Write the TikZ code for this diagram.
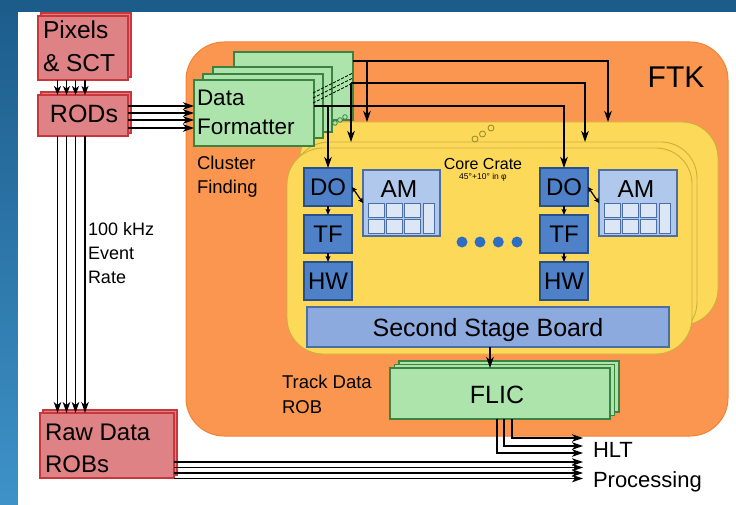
\documentclass[tikz,border=0pt]{standalone}
\usepackage{fontspec}
\setmainfont{Liberation Sans}
\usetikzlibrary{arrows.meta}
\definecolor{frameA}{RGB}{28,92,138}
\definecolor{frameB}{RGB}{62,146,200}
\definecolor{redF}{RGB}{222,130,133}
\definecolor{redD}{RGB}{200,55,60}
\definecolor{orgF}{RGB}{250,150,80}
\definecolor{orgD}{RGB}{242,132,52}
\definecolor{yelF}{RGB}{253,217,90}
\definecolor{yelD}{RGB}{205,175,60}
\definecolor{grnF}{RGB}{172,228,172}
\definecolor{grnD}{RGB}{60,130,65}
\definecolor{bluF}{RGB}{79,129,200}
\definecolor{bluD}{RGB}{40,80,140}
\definecolor{amF}{RGB}{176,200,235}
\definecolor{amD}{RGB}{75,110,165}
\definecolor{amC}{RGB}{220,230,245}
\definecolor{ssbF}{RGB}{140,170,222}
\definecolor{dotC}{RGB}{45,110,195}
\newcommand{\myfs}[1]{\fontsize{#1pt}{#1pt}\selectfont}
\begin{document}
\begin{tikzpicture}[x=1pt,y=-1pt,
  box/.style={draw, rectangle, inner sep=0pt, outer sep=0pt, anchor=north west, line width=1.1pt},
  redbox/.style={box, fill=redF, draw=redD},
  grnbox/.style={box, fill=grnF, draw=grnD},
  blubox/.style={box, fill=bluF, draw=bluD, font=\myfs{24}},
  ambox/.style={box, fill=amF, draw=amD},
  crate/.style={box, fill=yelF, draw=yelD, line width=0.9pt, rounded corners=36pt},
  lbl/.style={inner sep=0pt, outer sep=0pt, anchor=base west},
  clbl/.style={inner sep=0pt, outer sep=0pt, anchor=base},
  arr/.style={line width=1.6pt, -{Stealth[length=11pt,width=7.5pt,inset=3pt]}},
  barr/.style={line width=1.4pt, -{Stealth[length=11pt,width=7.5pt,inset=3pt]}},
  sarr/.style={line width=1.2pt, -{Stealth[length=6pt,width=5pt,inset=1.5pt]}},
  parr/.style={line width=1.3pt, -{Stealth[length=9pt,width=7pt,inset=2.5pt]}},
  darr/.style={line width=1.2pt, {Stealth[length=5pt,width=5pt,inset=1pt]}-{Stealth[length=5pt,width=5pt,inset=1pt]}},
]
\useasboundingbox (0,0) rectangle (736,505);
% frame
\fill[top color=frameA, bottom color=frameB] (0,0) rectangle (736,505);
\fill[frameA] (0,0) rectangle (736,12);
\fill[white] (18,12) rectangle (736,505);

% FTK
\node[box, fill=orgF, draw=orgD, line width=1pt, rounded corners=38pt, minimum width=542pt, minimum height=394pt] (ftk) at (186,42) {};
\node[clbl, font=\myfs{30}] (tftk) at (676,88) {FTK};

% crates
\node[crate, minimum width=418pt, minimum height=203pt] (yb3) at (300,122) {};
\node[crate, minimum width=404pt, minimum height=196pt] (yb2) at (293,142) {};
\node[crate, minimum width=405pt, minimum height=206pt] (yb1) at (287,148) {};
\foreach \cx/\cy in {475/139,482.5/134,491/128}
  \draw[yelD!80!black, line width=0.9pt, fill=yelF] (\cx,\cy) circle (3pt);
\node[clbl, font=\myfs{16}] (tcore) at (483,170) {Core Crate};
\node[clbl, font=\myfs{8.5}] (tphi) at (483,180) {45°+10° in φ};

% Data formatter stack
\node[grnbox, minimum width=119pt, minimum height=68pt] (dfb4) at (234,52) {};
\node[grnbox, minimum width=119pt, minimum height=65pt] (dfb3) at (213,67) {};
\node[grnbox, minimum width=120pt, minimum height=64pt] (dfb2) at (203,74) {};
\node[grnbox, minimum width=120pt, minimum height=66pt] (df1) at (194,80) {};
\node[lbl, font=\myfs{22.5}] (tdata) at (197,106) {Data};
\node[lbl, font=\myfs{22.5}] (tform) at (197,135) {Formatter};
\foreach \cx/\cy in {335/123,340/120,345/117}
  \draw[grnD, line width=0.8pt, fill=grnF] (\cx,\cy) circle (2.3pt);
\foreach \k in {0,5,10}
  \draw[line width=0.8pt, dash pattern=on 3pt off 1.5pt] (313,93+\k) -- (353,73+\k);
\node[lbl, font=\myfs{18.5}] (tclu) at (197,170) {Cluster};
\node[lbl, font=\myfs{18.5}] (tfin) at (197,194) {Finding};

% blue boards
\node[blubox, minimum width=48pt, minimum height=38pt] (do1) at (304,168) {DO};
\node[blubox, minimum width=48pt, minimum height=38pt] (tf1) at (304,215) {TF};
\node[blubox, minimum width=48pt, minimum height=38pt] (hw1) at (304,262) {HW};
\node[blubox, minimum width=48pt, minimum height=38pt] (do2) at (540,168) {DO};
\node[blubox, minimum width=48pt, minimum height=38pt] (tf2) at (540,215) {TF};
\node[blubox, minimum width=48pt, minimum height=38pt] (hw2) at (540,262) {HW};
\node[ambox, minimum width=77pt, minimum height=66pt] (am1) at (363,170) {};
\node[ambox, minimum width=78pt, minimum height=66pt] (am2) at (599,170) {};
\node[clbl, font=\myfs{24.5}] (tam1) at (399,197) {AM};
\node[clbl, font=\myfs{24.5}] (tam2) at (636,197) {AM};
\foreach \ox in {363,599}{
  \foreach \dx in {5,23,41}
    \foreach \dy in {33,49}
      \draw[amD, line width=0.9pt, fill=amC] (\ox+\dx,170+\dy) rectangle ++(16,14);
  \draw[amD, line width=0.9pt, fill=amC] (\ox+60,203) rectangle ++(11,30);
}
\draw[darr] (do1.east) -- (am1.west);
\draw[darr] (do2.east) -- (am2.west);
\draw[sarr] (do1.south) -- (tf1.north);
\draw[sarr] (tf1.south) -- (hw1.north);
\draw[sarr] (do2.south) -- (tf2.north);
\draw[sarr] (tf2.south) -- (hw2.north);
\foreach \cx in {462,480,498.3,517}
  \fill[dotC] (\cx,242) circle (5.5pt);

% second stage board
\node[box, fill=ssbF, draw=amD, minimum width=362pt, minimum height=40pt] (ssb) at (307,307) {};
\node[clbl, font=\myfs{25}] (tssb) at (488,336) {Second Stage Board};

% FLIC
\node[grnbox, minimum width=220pt, minimum height=51pt] (fl3) at (399,361) {};
\node[grnbox, minimum width=220pt, minimum height=51pt] (fl2) at (394.5,364.5) {};
\node[grnbox, minimum width=220pt, minimum height=51pt] (fl1) at (390,368) {};
\node[clbl, font=\myfs{25}] (tflic) at (497,403) {FLIC};
\node[lbl, font=\myfs{18.5}] (ttrk) at (282,388) {Track Data};
\node[lbl, font=\myfs{18.5}] (trob) at (282,413) {ROB};
\draw[arr] (ssb.south -| 490,0) -- (fl1.north -| 490,0);

% red boxes
\node[redbox, minimum width=90pt, minimum height=64pt] (pixB) at (41,13) {};
\node[redbox, minimum width=90pt, minimum height=64pt] (pix) at (38,16) {};
\node[lbl, font=\myfs{24.5}] (tpix1) at (43,39) {Pixels};
\node[lbl, font=\myfs{24.5}] (tpix2) at (43,72) {\& SCT};
\node[redbox, minimum width=90pt, minimum height=41pt] (rodsB) at (41,92) {};
\node[redbox, minimum width=90pt, minimum height=41pt] (rods) at (38,95) {};
\node[clbl, font=\myfs{25}] (trods) at (84,123) {RODs};
\node[redbox, minimum width=134pt, minimum height=65pt] (rawB) at (43,410) {};
\node[redbox, minimum width=134pt, minimum height=65pt] (raw) at (40,413) {};
\node[lbl, font=\myfs{24}] (traw1) at (45,440) {Raw Data};
\node[lbl, font=\myfs{24}] (traw2) at (45,472) {ROBs};

% pixels -> RODs
\foreach \xx in {57.5,66.5,75.5,85}
  \draw[parr] (pix.south -| \xx,0) -- (rods.north -| \xx,0);
% RODs -> DF
\foreach \yy in {106,113,120,128}
  \draw[barr] (rods.east |- 0,\yy) -- (df1.west |- 0,\yy);
% RODs -> Raw
\foreach \xx in {57.5,66.5,75.5,85}
  \draw[barr] (rods.south -| \xx,0) -- (raw.north -| \xx,0);
\node[lbl, font=\myfs{18}] (trate1) at (88,235) {100 kHz};
\node[lbl, font=\myfs{18}] (trate2) at (88,259) {Event};
\node[lbl, font=\myfs{18}] (trate3) at (88,283) {Rate};

% DF -> crates
\draw[arr] (dfb4.east |- 0,61) -| (608,0 |- yb3.north);
\draw[arr] (367,61) -- (367,0 |- yb3.north);
\draw[arr] (351,83) -| (585,0 |- yb2.north);
\draw[arr] (351,83) -- (351,0 |- yb2.north);
\draw[arr] (df1.east |- 0,106) -| (do2.north);
\draw[arr] (do1.north |- 0,106) -- (do1.north);

% outputs
\coordinate (hA) at (583,438);
\coordinate (hB) at (583,446);
\coordinate (hC) at (583,453);
\draw[barr] (fl1.south -| 512,0) |- (hA);
\draw[barr] (fl1.south -| 504,0) |- (hB);
\draw[barr] (fl1.south -| 497,0) |- (hC);
\foreach \yy in {462,467.5,473,478.5}
  \draw[barr] (raw.east |- 0,\yy) -- (583,\yy);
\node[lbl, font=\myfs{22}] (thlt) at (593,457) {HLT};
\node[lbl, font=\myfs{22}] (tproc) at (593,487) {Processing};
\end{tikzpicture}
\end{document}
